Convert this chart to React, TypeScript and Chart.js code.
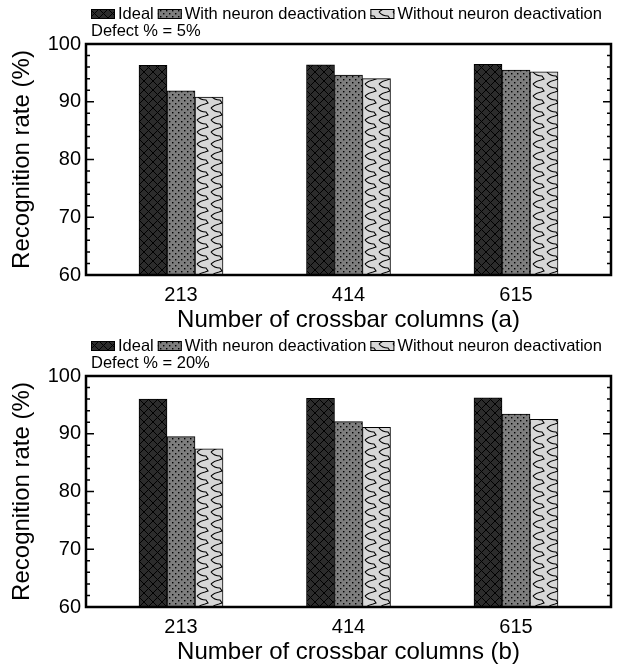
import React, { useEffect, useRef } from 'react';
import { Chart, registerables } from 'chart.js';
Chart.register(...registerables);

const CATEGORIES = [213, 414, 615];
const SERIES_NAMES = ['Ideal', 'With neuron deactivation', 'Without neuron deactivation'];
const IDEAL_5 = [96.3, 96.4, 96.5];
const WITH_5 = [91.9, 94.6, 95.5];
const WITHOUT_5 = [90.8, 94.0, 95.2];
const IDEAL_20 = [96.0, 96.15, 96.2];
const WITH_20 = [89.5, 92.1, 93.4];
const WITHOUT_20 = [87.4, 91.1, 92.5];
const Y_MIN = 60;
const Y_MAX = 100;
const Y_STEP = 10;
const Y_MINOR_STEP = 2;
const X_MIN = 99;
const X_MAX = 729;
const X_TITLES = ['Number of crossbar columns (a)', 'Number of crossbar columns (b)'];
const Y_TITLE = 'Recognition rate (%)';
const DEFECT_LABELS = ['Defect % = 5%', 'Defect % = 20%'];

const FONT = '"Liberation Sans", Arial, Helvetica, sans-serif';

function makePattern(kind: number): CanvasPattern | string {
  const c = document.createElement('canvas');
  const ctx = c.getContext('2d');
  if (!ctx) return '#888';
  if (kind === 0) {
    c.width = 9; c.height = 9;
    ctx.fillStyle = '#2c2c2c';
    ctx.fillRect(0, 0, 9, 9);
    ctx.strokeStyle = '#000';
    ctx.lineWidth = 1;
    ctx.beginPath();
    ctx.moveTo(-1, -1); ctx.lineTo(10, 10);
    ctx.moveTo(10, -1); ctx.lineTo(-1, 10);
    ctx.stroke();
  } else if (kind === 1) {
    c.width = 6; c.height = 6;
    ctx.fillStyle = '#7e7e7e';
    ctx.fillRect(0, 0, 6, 6);
    ctx.fillStyle = '#000';
    ctx.fillRect(1, 1, 1.4, 1.4);
    ctx.fillRect(4, 4, 1.4, 1.4);
  } else {
    c.width = 14; c.height = 12;
    ctx.fillStyle = '#d7d7d7';
    ctx.fillRect(0, 0, 14, 12);
    ctx.strokeStyle = '#000';
    ctx.lineWidth = 1.1;
    ctx.beginPath();
    ctx.moveTo(1, 0);
    ctx.quadraticCurveTo(4, 4, 10, 4);
    ctx.lineTo(12, 7);
    ctx.lineTo(9, 8);
    ctx.quadraticCurveTo(4, 9, 1, 12);
    ctx.stroke();
  }
  const p = ctx.createPattern(c, 'repeat');
  return p || '#888';
}

function ChartPanel(props: { ideal: number[]; withD: number[]; withoutD: number[]; xTitle: string; defect: string; height: number; top: number }) {
  const ref = useRef<HTMLCanvasElement | null>(null);
  useEffect(() => {
    if (!ref.current) return;
    const patterns = [makePattern(0), makePattern(1), makePattern(2)];
    const seriesData = [props.ideal, props.withD, props.withoutD];
    const xAxisHeight = props.height - 275;

    const framePlugin = {
      id: 'frame',
      afterDatasetsDraw(chart: any) {
        const { ctx, chartArea } = chart;
        const { left, right, top, bottom } = chartArea;
        const y = chart.scales.y;
        ctx.save();
        ctx.strokeStyle = '#000';
        ctx.lineWidth = 1.5;
        for (let v = Y_MIN; v <= Y_MAX; v += Y_MINOR_STEP) {
          const p = y.getPixelForValue(v);
          const len = v % Y_STEP === 0 ? 8 : 4;
          ctx.beginPath();
          ctx.moveTo(left, p); ctx.lineTo(left + len, p);
          ctx.moveTo(right, p); ctx.lineTo(right - len, p);
          ctx.stroke();
        }
        ctx.lineWidth = 2.5;
        ctx.strokeRect(left, top, right - left, bottom - top);
        ctx.restore();
      },
      afterDraw(chart: any) {
        const { ctx } = chart;
        ctx.save();
        ctx.font = '16.5px ' + FONT;
        ctx.textBaseline = 'middle';
        ctx.textAlign = 'left';
        ctx.fillStyle = '#000';
        let x = 91;
        const yc = 14;
        SERIES_NAMES.forEach((name, i) => {
          ctx.fillStyle = patterns[i] as any;
          ctx.fillRect(x, yc - 5, 24, 10);
          ctx.strokeStyle = '#000';
          ctx.lineWidth = 1;
          ctx.strokeRect(x + 0.5, yc - 4.5, 23, 9);
          x += 27;
          ctx.fillStyle = '#000';
          ctx.fillText(name, x, yc);
          x += ctx.measureText(name).width + 4;
        });
        ctx.fillText(props.defect, 91, 31);
        ctx.restore();
      },
    };

    const chart = new Chart(ref.current, {
      type: 'bar',
      data: {
        datasets: SERIES_NAMES.map((name, i) => ({
          label: name,
          data: CATEGORIES.map((c, j) => ({ x: c, y: seriesData[i][j] })),
          backgroundColor: patterns[i] as any,
          borderColor: '#000',
          borderWidth: 1,
          barThickness: 28,
        })),
      },
      options: {
        animation: false,
        responsive: true,
        maintainAspectRatio: false,
        layout: { padding: { top: 44, right: 12, left: 0, bottom: 0 } },
        plugins: { legend: { display: false }, tooltip: { enabled: false } },
        scales: {
          x: {
            type: 'linear',
            min: X_MIN,
            max: X_MAX,
            offset: false,
            grid: { display: false, drawTicks: false, offset: false },
            border: { display: false },
            afterBuildTicks: (axis: any) => {
              axis.ticks = CATEGORIES.map((v) => ({ value: v }));
            },
            afterFit: (axis: any) => { axis.height = xAxisHeight; },
            ticks: {
              autoSkip: false,
              maxRotation: 0,
              padding: 8,
              color: '#000',
              font: { family: FONT, size: 20 },
              callback: (v: any) => String(v),
            },
            title: {
              display: true,
              text: props.xTitle,
              color: '#000',
              font: { family: FONT, size: 24, lineHeight: 1 },
              padding: { top: 0, bottom: props.height === 332 ? 0 : 4 },
            },
          },
          y: {
            min: Y_MIN,
            max: Y_MAX,
            grid: { display: false, drawTicks: false },
            border: { display: false },
            afterFit: (axis: any) => { axis.width = 86; },
            ticks: {
              stepSize: Y_STEP,
              padding: 5,
              color: '#000',
              font: { family: FONT, size: 20 },
            },
            title: {
              display: true,
              text: Y_TITLE,
              color: '#000',
              font: { family: FONT, size: 24, lineHeight: 1 },
              padding: { top: 10, bottom: 0 },
            },
          },
        },
      },
      plugins: [framePlugin],
    } as any);
    return () => chart.destroy();
  }, []);
  return (
    <div style={{ position: 'absolute', left: 0, top: props.top, width: 623, height: props.height }}>
      <canvas ref={ref} />
    </div>
  );
}

export default function App() {
  return (
    <div style={{ position: 'absolute', left: 0, top: 0, width: 623, height: 668, background: '#fff' }}>
      <ChartPanel ideal={IDEAL_5} withD={WITH_5} withoutD={WITHOUT_5} xTitle={X_TITLES[0]} defect={DEFECT_LABELS[0]} height={332} top={0} />
      <ChartPanel ideal={IDEAL_20} withD={WITH_20} withoutD={WITHOUT_20} xTitle={X_TITLES[1]} defect={DEFECT_LABELS[1]} height={336} top={332} />
    </div>
  );
}
